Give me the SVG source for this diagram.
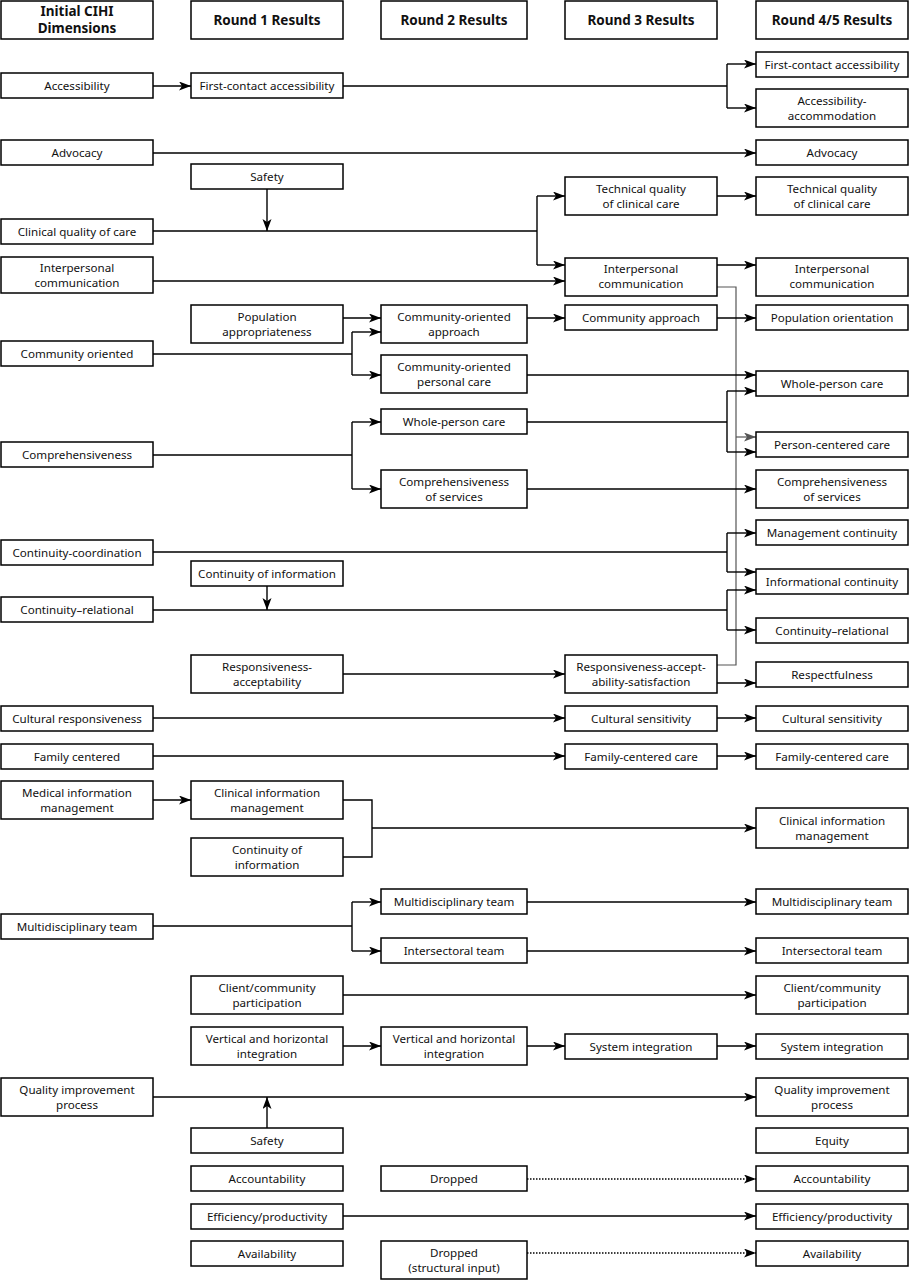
<svg xmlns="http://www.w3.org/2000/svg" width="909" height="1280" viewBox="0 0 909 1280">
<style>
.b{fill:#fff;stroke:#000;stroke-width:1.5}
text{font-family:"Noto Sans","Open Sans","Liberation Sans",sans-serif;font-size:11.6px;fill:#111;text-anchor:middle}
.h{font-weight:bold;font-size:13.5px}
.c{fill:none;stroke:#000;stroke-width:1.4}
.a{marker-end:url(#ar)}
.g{fill:none;stroke:#555;stroke-width:1.2}
.d{stroke-dasharray:1.5 1.5}
</style>
<defs>
<marker id="ar" markerUnits="userSpaceOnUse" markerWidth="12" markerHeight="10" refX="12" refY="4.5" orient="auto"><path d="M0,0 L12,4.5 L0,9 L3,4.5 z" fill="#000"/></marker>
<marker id="arg" markerUnits="userSpaceOnUse" markerWidth="12" markerHeight="10" refX="12" refY="4.5" orient="auto"><path d="M0,0 L12,4.5 L0,9 L3,4.5 z" fill="#555"/></marker>
</defs>
<rect width="909" height="1280" fill="#fff"/>
<g id="connectors">
<path class="c a" d="M153,86 H191"/>
<path class="c" d="M343,86 H727 M727,64 V108"/>
<path class="c a" d="M727,64 H756"/>
<path class="c a" d="M727,108 H756"/>
<path class="c a" d="M153,153 H756"/>
<path class="c a" d="M267,189 V231"/>
<path class="c" d="M153,231 H537 M537,196 V265"/>
<path class="c a" d="M537,196 H565"/>
<path class="c a" d="M537,265 H565"/>
<path class="c a" d="M717,196 H756"/>
<path class="c a" d="M153,281 H565"/>
<path class="c a" d="M717,265 H756"/>
<path class="g" d="M717,287 H736 V665 H717"/>
<path class="g" d="M736,437 H756" marker-end="url(#arg)"/>
<path class="c a" d="M343,318 H381"/>
<path class="c a" d="M527,318 H565"/>
<path class="c a" d="M717,318 H756"/>
<path class="c" d="M153,354 H352 M352,332 V375"/>
<path class="c a" d="M352,332 H381"/>
<path class="c a" d="M352,375 H381"/>
<path class="c a" d="M527,375 H756"/>
<path class="c" d="M153,455 H352 M352,422 V489"/>
<path class="c a" d="M352,422 H381"/>
<path class="c a" d="M352,489 H381"/>
<path class="c" d="M527,422 H727 M727,391 V452"/>
<path class="c a" d="M727,391 H756"/>
<path class="c a" d="M727,452 H756"/>
<path class="c a" d="M527,489 H756"/>
<path class="c" d="M153,552 H727 M727,533 V572"/>
<path class="c a" d="M727,533 H756"/>
<path class="c a" d="M727,572 H756"/>
<path class="c a" d="M267,586 V610"/>
<path class="c" d="M153,610 H727 M727,590 V630"/>
<path class="c a" d="M727,590 H756"/>
<path class="c a" d="M727,630 H756"/>
<path class="c a" d="M343,674 H565"/>
<path class="c a" d="M717,683 H756"/>
<path class="c a" d="M153,718 H565"/>
<path class="c a" d="M717,718 H756"/>
<path class="c a" d="M153,756 H565"/>
<path class="c a" d="M717,756 H756"/>
<path class="c a" d="M153,800 H191"/>
<path class="c" d="M343,800 H372 V857 H343 M372,828 H740"/>
<path class="c a" d="M740,828 H756"/>
<path class="c" d="M153,926 H352 M352,902 V951"/>
<path class="c a" d="M352,902 H381"/>
<path class="c a" d="M352,951 H381"/>
<path class="c a" d="M527,902 H756"/>
<path class="c a" d="M527,951 H756"/>
<path class="c a" d="M343,995 H756"/>
<path class="c a" d="M343,1046 H381"/>
<path class="c a" d="M527,1046 H565"/>
<path class="c a" d="M717,1046 H756"/>
<path class="c a" d="M153,1097 H756"/>
<path class="c a" d="M267,1128 V1097"/>
<path class="c a d" d="M527,1179 H756"/>
<path class="c a" d="M343,1216 H756"/>
<path class="c a d" d="M527,1253 H756"/>
</g>
<g id="h0"><rect class="b" x="1" y="1" width="152" height="38"/><text class="h" x="77" y="16">Initial CIHI</text><text class="h" x="77" y="33">Dimensions</text></g>
<g id="h1"><rect class="b" x="191" y="1" width="152" height="38"/><text class="h" x="267" y="25">Round 1 Results</text></g>
<g id="h2"><rect class="b" x="381" y="1" width="146" height="38"/><text class="h" x="454" y="25">Round 2 Results</text></g>
<g id="h3"><rect class="b" x="565" y="1" width="152" height="38"/><text class="h" x="641" y="25">Round 3 Results</text></g>
<g id="h4"><rect class="b" x="756" y="1" width="152" height="38"/><text class="h" x="832" y="25">Round 4/5 Results</text></g>

<g id="n0_access"><rect class="b" x="1" y="73" width="152" height="25"/><text x="77" y="90">Accessibility</text></g>
<g id="n1_fca"><rect class="b" x="191" y="73" width="152" height="25"/><text x="267" y="90">First-contact accessibility</text></g>
<g id="n4_fca"><rect class="b" x="756" y="52" width="152" height="25"/><text x="832" y="69">First-contact accessibility</text></g>
<g id="n4_aa"><rect class="b" x="756" y="89" width="152" height="38"/><text x="832" y="105">Accessibility-</text><text x="832" y="120">accommodation</text></g>
<g id="n0_adv"><rect class="b" x="1" y="140" width="152" height="25"/><text x="77" y="157">Advocacy</text></g>
<g id="n4_adv"><rect class="b" x="756" y="140" width="152" height="25"/><text x="832" y="157">Advocacy</text></g>
<g id="n1_safety"><rect class="b" x="191" y="164" width="152" height="25"/><text x="267" y="181">Safety</text></g>
<g id="n0_cqc"><rect class="b" x="1" y="219" width="152" height="25"/><text x="77" y="236">Clinical quality of care</text></g>
<g id="n3_tq"><rect class="b" x="565" y="177" width="152" height="38"/><text x="641" y="193">Technical quality</text><text x="641" y="208">of clinical care</text></g>
<g id="n4_tq"><rect class="b" x="756" y="177" width="152" height="38"/><text x="832" y="193">Technical quality</text><text x="832" y="208">of clinical care</text></g>
<g id="n0_ic"><rect class="b" x="1" y="257" width="152" height="36"/><text x="77" y="272">Interpersonal</text><text x="77" y="287">communication</text></g>
<g id="n3_ic"><rect class="b" x="565" y="258" width="152" height="38"/><text x="641" y="273">Interpersonal</text><text x="641" y="288">communication</text></g>
<g id="n4_ic"><rect class="b" x="756" y="258" width="152" height="38"/><text x="832" y="273">Interpersonal</text><text x="832" y="288">communication</text></g>
<g id="n1_pa"><rect class="b" x="191" y="305" width="152" height="38"/><text x="267" y="321">Population</text><text x="267" y="336">appropriateness</text></g>
<g id="n2_coa"><rect class="b" x="381" y="305" width="146" height="38"/><text x="454" y="321">Community-oriented</text><text x="454" y="336">approach</text></g>
<g id="n3_ca"><rect class="b" x="565" y="305" width="152" height="25"/><text x="641" y="322">Community approach</text></g>
<g id="n4_po"><rect class="b" x="756" y="305" width="152" height="25"/><text x="832" y="322">Population orientation</text></g>
<g id="n0_co"><rect class="b" x="1" y="341" width="152" height="25"/><text x="77" y="358">Community oriented</text></g>
<g id="n2_copc"><rect class="b" x="381" y="355" width="146" height="38"/><text x="454" y="371">Community-oriented</text><text x="454" y="386">personal care</text></g>
<g id="n4_wpc"><rect class="b" x="756" y="371" width="152" height="25"/><text x="832" y="388">Whole-person care</text></g>
<g id="n2_wpc"><rect class="b" x="381" y="409" width="146" height="25"/><text x="454" y="426">Whole-person care</text></g>
<g id="n4_pcc"><rect class="b" x="756" y="432" width="152" height="25"/><text x="832" y="449">Person-centered care</text></g>
<g id="n0_comp"><rect class="b" x="1" y="442" width="152" height="25"/><text x="77" y="459">Comprehensiveness</text></g>
<g id="n2_cos"><rect class="b" x="381" y="470" width="146" height="38"/><text x="454" y="486">Comprehensiveness</text><text x="454" y="501">of services</text></g>
<g id="n4_cos"><rect class="b" x="756" y="470" width="152" height="38"/><text x="832" y="486">Comprehensiveness</text><text x="832" y="501">of services</text></g>
<g id="n4_mc"><rect class="b" x="756" y="520" width="152" height="25"/><text x="832" y="537">Management continuity</text></g>
<g id="n0_cc"><rect class="b" x="1" y="540" width="152" height="25"/><text x="77" y="557">Continuity-coordination</text></g>
<g id="n1_coi"><rect class="b" x="191" y="561" width="152" height="25"/><text x="267" y="578">Continuity of information</text></g>
<g id="n4_infc"><rect class="b" x="756" y="569" width="152" height="25"/><text x="832" y="586">Informational continuity</text></g>
<g id="n0_cr"><rect class="b" x="1" y="597" width="152" height="25"/><text x="77" y="614">Continuity–relational</text></g>
<g id="n4_cr"><rect class="b" x="756" y="618" width="152" height="25"/><text x="832" y="635">Continuity–relational</text></g>
<g id="n1_ra"><rect class="b" x="191" y="655" width="152" height="38"/><text x="267" y="671">Responsiveness-</text><text x="267" y="686">acceptability</text></g>
<g id="n3_ras"><rect class="b" x="565" y="655" width="152" height="38"/><text x="641" y="671">Responsiveness-accept-</text><text x="641" y="686">ability-satisfaction</text></g>
<g id="n4_resp"><rect class="b" x="756" y="662" width="152" height="25"/><text x="832" y="679">Respectfulness</text></g>
<g id="n0_cultr"><rect class="b" x="1" y="706" width="152" height="25"/><text x="77" y="723">Cultural responsiveness</text></g>
<g id="n3_cs"><rect class="b" x="565" y="706" width="152" height="25"/><text x="641" y="723">Cultural sensitivity</text></g>
<g id="n4_cs"><rect class="b" x="756" y="706" width="152" height="25"/><text x="832" y="723">Cultural sensitivity</text></g>
<g id="n0_fc"><rect class="b" x="1" y="744" width="152" height="25"/><text x="77" y="761">Family centered</text></g>
<g id="n3_fcc"><rect class="b" x="565" y="744" width="152" height="25"/><text x="641" y="761">Family-centered care</text></g>
<g id="n4_fcc"><rect class="b" x="756" y="744" width="152" height="25"/><text x="832" y="761">Family-centered care</text></g>
<g id="n0_mim"><rect class="b" x="1" y="781" width="152" height="38"/><text x="77" y="797">Medical information</text><text x="77" y="812">management</text></g>
<g id="n1_cim"><rect class="b" x="191" y="781" width="152" height="38"/><text x="267" y="797">Clinical information</text><text x="267" y="812">management</text></g>
<g id="n1_coi2"><rect class="b" x="191" y="838" width="152" height="38"/><text x="267" y="854">Continuity of</text><text x="267" y="869">information</text></g>
<g id="n4_cim"><rect class="b" x="756" y="808" width="152" height="40"/><text x="832" y="825">Clinical information</text><text x="832" y="840">management</text></g>
<g id="n2_mdt"><rect class="b" x="381" y="889" width="146" height="25"/><text x="454" y="906">Multidisciplinary team</text></g>
<g id="n4_mdt"><rect class="b" x="756" y="889" width="152" height="25"/><text x="832" y="906">Multidisciplinary team</text></g>
<g id="n0_mdt"><rect class="b" x="1" y="914" width="152" height="25"/><text x="77" y="931">Multidisciplinary team</text></g>
<g id="n2_ist"><rect class="b" x="381" y="938" width="146" height="25"/><text x="454" y="955">Intersectoral team</text></g>
<g id="n4_ist"><rect class="b" x="756" y="938" width="152" height="25"/><text x="832" y="955">Intersectoral team</text></g>
<g id="n1_ccp"><rect class="b" x="191" y="976" width="152" height="38"/><text x="267" y="992">Client/community</text><text x="267" y="1007">participation</text></g>
<g id="n4_ccp"><rect class="b" x="756" y="976" width="152" height="38"/><text x="832" y="992">Client/community</text><text x="832" y="1007">participation</text></g>
<g id="n1_vhi"><rect class="b" x="191" y="1027" width="152" height="38"/><text x="267" y="1043">Vertical and horizontal</text><text x="267" y="1058">integration</text></g>
<g id="n2_vhi"><rect class="b" x="381" y="1027" width="146" height="38"/><text x="454" y="1043">Vertical and horizontal</text><text x="454" y="1058">integration</text></g>
<g id="n3_si"><rect class="b" x="565" y="1034" width="152" height="25"/><text x="641" y="1051">System integration</text></g>
<g id="n4_si"><rect class="b" x="756" y="1034" width="152" height="25"/><text x="832" y="1051">System integration</text></g>
<g id="n0_qip"><rect class="b" x="1" y="1078" width="152" height="38"/><text x="77" y="1094">Quality improvement</text><text x="77" y="1109">process</text></g>
<g id="n4_qip"><rect class="b" x="756" y="1078" width="152" height="38"/><text x="832" y="1094">Quality improvement</text><text x="832" y="1109">process</text></g>
<g id="n1_safety2"><rect class="b" x="191" y="1128" width="152" height="25"/><text x="267" y="1145">Safety</text></g>
<g id="n4_equity"><rect class="b" x="756" y="1128" width="152" height="25"/><text x="832" y="1145">Equity</text></g>
<g id="n1_acc"><rect class="b" x="191" y="1166" width="152" height="25"/><text x="267" y="1183">Accountability</text></g>
<g id="n2_drop1"><rect class="b" x="381" y="1166" width="146" height="25"/><text x="454" y="1183">Dropped</text></g>
<g id="n4_acc"><rect class="b" x="756" y="1166" width="152" height="25"/><text x="832" y="1183">Accountability</text></g>
<g id="n1_eff"><rect class="b" x="191" y="1204" width="152" height="25"/><text x="267" y="1221">Efficiency/productivity</text></g>
<g id="n4_eff"><rect class="b" x="756" y="1204" width="152" height="25"/><text x="832" y="1221">Efficiency/productivity</text></g>
<g id="n1_avail"><rect class="b" x="191" y="1241" width="152" height="25"/><text x="267" y="1258">Availability</text></g>
<g id="n2_drop2"><rect class="b" x="381" y="1241" width="146" height="38"/><text x="454" y="1257">Dropped</text><text x="454" y="1272">(structural input)</text></g>
<g id="n4_avail"><rect class="b" x="756" y="1241" width="152" height="25"/><text x="832" y="1258">Availability</text></g>
</svg>
